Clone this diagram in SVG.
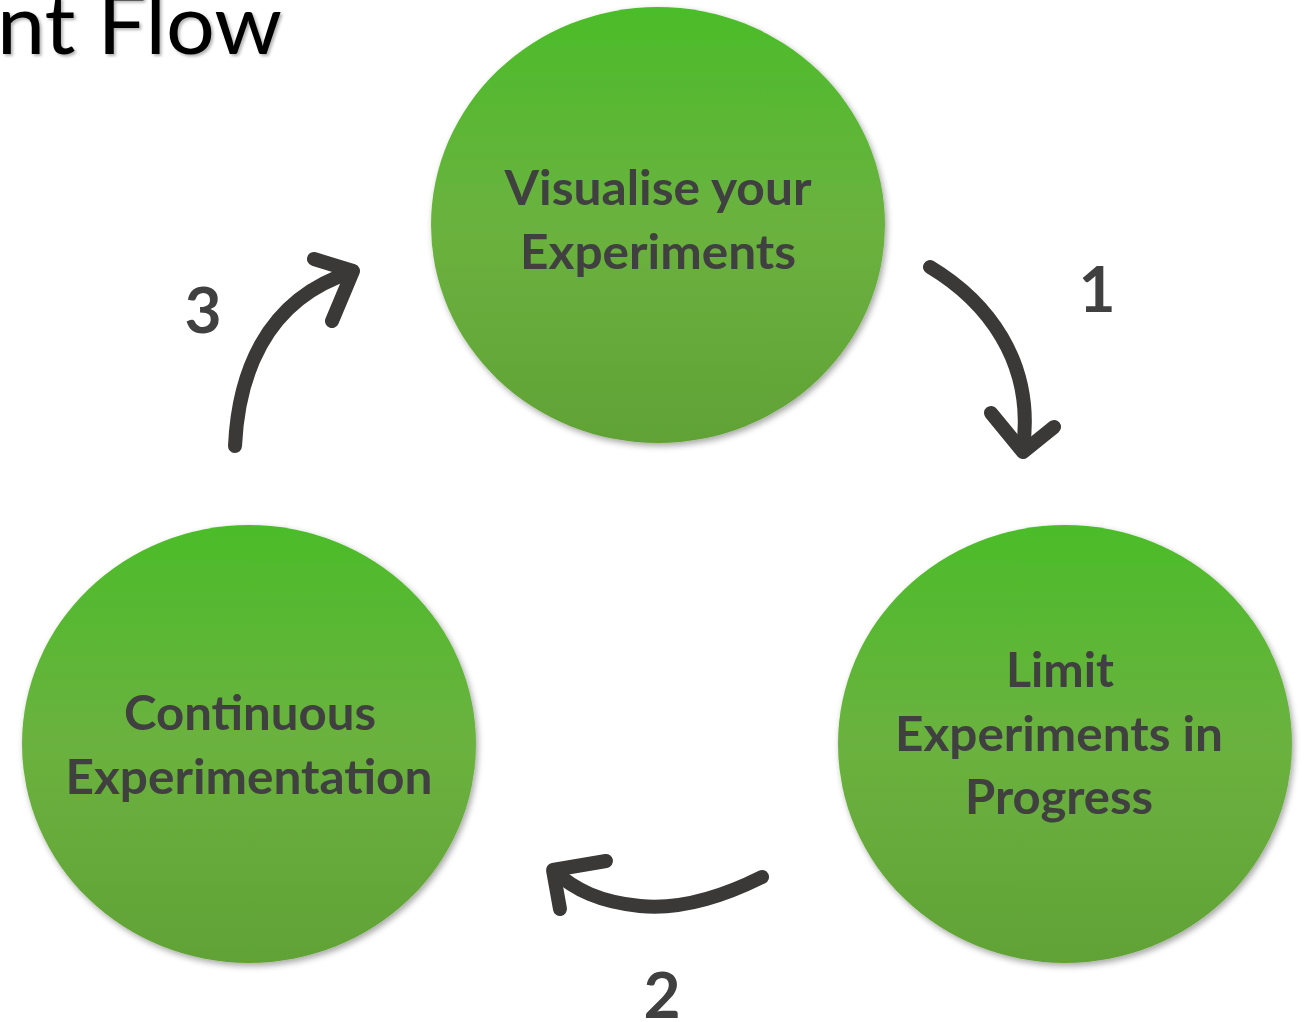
<svg xmlns="http://www.w3.org/2000/svg" width="1307" height="1022" viewBox="0 0 1307 1022">
<defs>
<linearGradient id="g" x1="0" y1="0" x2="0" y2="1">
<stop offset="0" stop-color="#4bbc29"/>
<stop offset="0.5" stop-color="#6bb23f"/>
<stop offset="1" stop-color="#61a236"/>
</linearGradient>
<filter id="sh" x="-10%" y="-10%" width="125%" height="125%">
<feDropShadow dx="2" dy="3" stdDeviation="3" flood-color="#000" flood-opacity="0.35"/>
</filter>
<filter id="tsh" x="-5%" y="-20%" width="110%" height="140%">
<feDropShadow dx="2" dy="2" stdDeviation="1.5" flood-color="#000" flood-opacity="0.3"/>
</filter>
</defs>
<style>
.c{fill:url(#g);filter:url(#sh)}
.t{font-family:Lato,"Open Sans","Liberation Sans",sans-serif;font-weight:bold;font-size:48px;fill:#404040;text-anchor:middle}
.n{font-family:Lato,"Open Sans","Liberation Sans",sans-serif;font-weight:bold;font-size:64px;fill:#404040;text-anchor:middle}
.a{fill:none;stroke:#3b3937;stroke-width:14;stroke-linecap:round;stroke-linejoin:round}
</style>
<rect width="1307" height="1022" fill="#fff"/>
<text x="-3" y="54" font-family="Lato,'Open Sans','Liberation Sans',sans-serif" font-size="84" fill="#000" textLength="285" lengthAdjust="spacingAndGlyphs" filter="url(#tsh)">nt Flow</text>
<g id="node-visualise">
<ellipse class="c" cx="658" cy="225" rx="227" ry="218"/>
<text class="t" x="658" y="205" textLength="307" lengthAdjust="spacingAndGlyphs">Visualise your</text>
<text class="t" x="658" y="269" textLength="276" lengthAdjust="spacingAndGlyphs">Experiments</text>
</g>
<g id="node-limit">
<ellipse class="c" cx="1065" cy="744" rx="227" ry="219"/>
<text class="t" x="1060" y="687" textLength="108" lengthAdjust="spacingAndGlyphs">Limit</text>
<text class="t" x="1059" y="751" textLength="328" lengthAdjust="spacingAndGlyphs">Experiments in</text>
<text class="t" x="1059" y="814" textLength="188" lengthAdjust="spacingAndGlyphs">Progress</text>
</g>
<g id="node-continuous">
<ellipse class="c" cx="249" cy="744" rx="227" ry="219"/>
<text class="t" x="250" y="730" textLength="252" lengthAdjust="spacingAndGlyphs">Continuous</text>
<text class="t" x="249" y="794" textLength="367" lengthAdjust="spacingAndGlyphs">Experimentation</text>
</g>
<g id="connectors">
<path class="a" d="M930,267 C985,300 1035,360 1023,448"/>
<path class="a" d="M991,413 L1023,452 L1054,427"/>
<path class="a" d="M762,877 C720,898 680,910 640,906 C600,902 575,890 554,871"/>
<path class="a" d="M606,861 L553,870 L560,909"/>
<path class="a" d="M235,446 C238,380 262,300 352,272"/>
<path class="a" d="M314,259 L353,271 L332,321"/>
</g>
<g id="labels">
<text class="n" x="1097" y="312">1</text>
<text class="n" x="662" y="1018">2</text>
<text class="n" x="203" y="333">3</text>
</g>
</svg>
